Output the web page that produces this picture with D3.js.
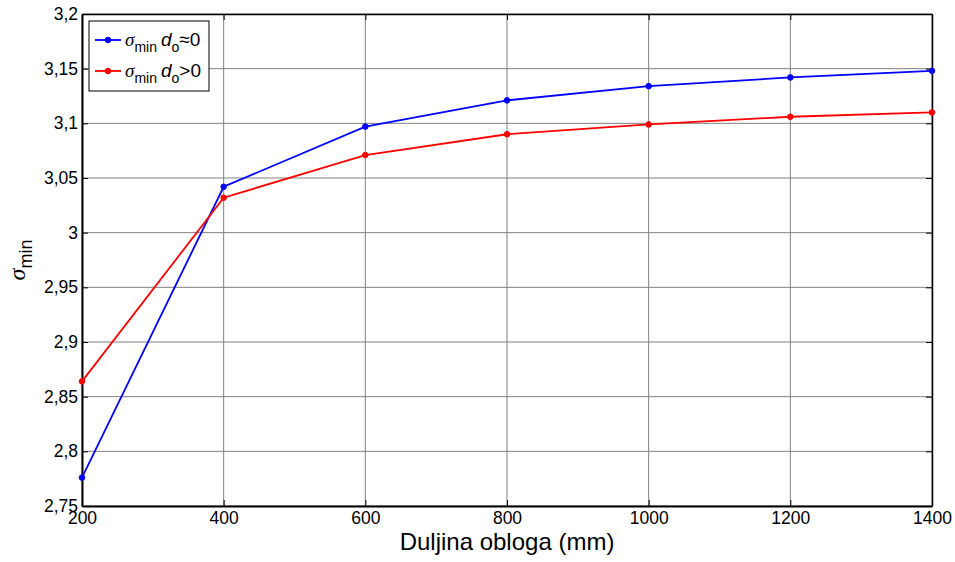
<!DOCTYPE html>
<html>
<head>
<meta charset="utf-8">
<script src="https://cdn.jsdelivr.net/npm/d3@7"></script>
<style>
  body { margin: 0; background: #fff; }
  text { font-family: "Liberation Sans", Arial, sans-serif; fill: #000; }
</style>
</head>
<body>
<div id="chart"></div>
<script>
// Duljina obloga vs sigma_min

const lengths = [200, 400, 600, 800, 1000, 1200, 1400];
const sigmaZero = [2.776, 3.042, 3.097, 3.121, 3.134, 3.142, 3.148]; // d_o ≈ 0
const sigmaPos = [2.864, 3.032, 3.071, 3.090, 3.099, 3.106, 3.110];  // d_o > 0
const xTicks = [200, 400, 600, 800, 1000, 1200, 1400];
const yTicks = [2.75, 2.8, 2.85, 2.9, 2.95, 3, 3.05, 3.1, 3.15, 3.2];

const width = 955, height = 562,
    margin = ({top: 14, right: 23, bottom: 56, left: 82});

const svg = d3.select("#chart")
    .append("svg")
    .attr("width", width)
    .attr("height", height);

const x = d3.scaleLinear()
    .domain([200, 1400])
    .range([margin.left, width - margin.right]);

const y = d3.scaleLinear()
    .domain([2.75, 3.2])
    .range([height - margin.bottom, margin.top]);

const fmt = d => d3.format("~g")(d).replace(".", ",");

// grid
svg.append("g")
    .selectAll("line")
    .data(xTicks)
    .join("line")
    .attr("x1", d => x(d)).attr("x2", d => x(d))
    .attr("y1", margin.top).attr("y2", height - margin.bottom)
    .attr("stroke", "#808080").attr("stroke-width", 1);

svg.append("g")
    .selectAll("line")
    .data(yTicks)
    .join("line")
    .attr("y1", d => y(d)).attr("y2", d => y(d))
    .attr("x1", margin.left).attr("x2", width - margin.right)
    .attr("stroke", "#808080").attr("stroke-width", 1);

// axes (ticks pointing inwards)
const xAxis = g => g
    .attr("transform", `translate(0,${height - margin.bottom})`)
    .call(d3.axisBottom(x).tickValues(xTicks).tickFormat(fmt).tickSizeInner(-6).tickSizeOuter(0).tickPadding(6))
    .call(g => g.select(".domain").attr("stroke-width", 2))
    .call(g => g.selectAll("text").attr("font-size", 17.5));

const yAxis = g => g
    .attr("transform", `translate(${margin.left},0)`)
    .call(d3.axisLeft(y).tickValues(yTicks).tickFormat(fmt).tickSizeInner(-6).tickSizeOuter(0).tickPadding(4))
    .call(g => g.select(".domain").attr("stroke-width", 2))
    .call(g => g.selectAll("text").attr("font-size", 17.5));

svg.append("g").call(xAxis);
svg.append("g").call(yAxis);

// top and right frame with ticks
svg.append("g")
    .attr("transform", `translate(0,${margin.top})`)
    .call(d3.axisTop(x).tickValues(xTicks).tickFormat("").tickSizeInner(-6).tickSizeOuter(0))
    .call(g => g.select(".domain").attr("stroke-width", 1.5));

svg.append("g")
    .attr("transform", `translate(${width - margin.right},0)`)
    .call(d3.axisRight(y).tickValues(yTicks).tickFormat("").tickSizeInner(-6).tickSizeOuter(0))
    .call(g => g.select(".domain").attr("stroke-width", 1.5));

// series
const series = [
    {values: sigmaZero, color: "#0000ff"},
    {values: sigmaPos, color: "#ff0000"}
];

const line = d3.line()
    .x((d, i) => x(lengths[i]))
    .y(d => y(d));

for (let s of series) {
    svg.append("path")
        .datum(s.values)
        .attr("fill", "none")
        .attr("stroke", s.color)
        .attr("stroke-width", 1.8)
        .attr("d", line);

    svg.append("g")
        .selectAll("circle")
        .data(s.values)
        .join("circle")
        .attr("cx", (d, i) => x(lengths[i]))
        .attr("cy", d => y(d))
        .attr("r", 2.8)
        .attr("fill", s.color)
        .attr("stroke", s.color);
}

// labels
svg.append("text")
    .attr("x", (margin.left + width - margin.right) / 2)
    .attr("y", height - 12)
    .attr("text-anchor", "middle")
    .attr("font-size", 24)
    .text("Duljina obloga (mm)");

const yl = svg.append("text")
    .attr("transform", `translate(25,${(margin.top + height - margin.bottom) / 2}) rotate(-90)`)
    .attr("text-anchor", "middle")
    .attr("font-size", 24);
yl.append("tspan").attr("font-style", "italic").attr("font-family", "'Liberation Serif', serif").text("σ");
yl.append("tspan").attr("font-size", 18).attr("dy", 7).text("min");

// legend
const lg = svg.append("g").attr("transform", "translate(89,21)");
lg.append("rect")
    .attr("width", 120).attr("height", 70)
    .attr("fill", "#fff").attr("stroke", "#000").attr("stroke-width", 1);

const legendLabels = ["≈0", ">0"];
series.forEach((s, i) => {
    const ly = 19 + i * 31;
    lg.append("line")
        .attr("x1", 6).attr("x2", 32)
        .attr("y1", ly).attr("y2", ly)
        .attr("stroke", s.color).attr("stroke-width", 1.8);
    lg.append("circle")
        .attr("cx", 19).attr("cy", ly).attr("r", 2.8)
        .attr("fill", s.color).attr("stroke", s.color);
    const t = lg.append("text")
        .attr("x", 36).attr("y", ly + 6)
        .attr("font-size", 19);
    t.append("tspan").attr("font-style", "italic").attr("font-family", "'Liberation Serif', serif").text("σ");
    t.append("tspan").attr("font-size", 14).attr("dy", 6).text("min");
    t.append("tspan").attr("dy", -6).attr("dx", 4).attr("font-style", "italic").text("d");
    t.append("tspan").attr("font-size", 14).attr("dy", 6).text("o");
    t.append("tspan").attr("dy", -6).text(legendLabels[i]);
});
</script>
</body>
</html>
